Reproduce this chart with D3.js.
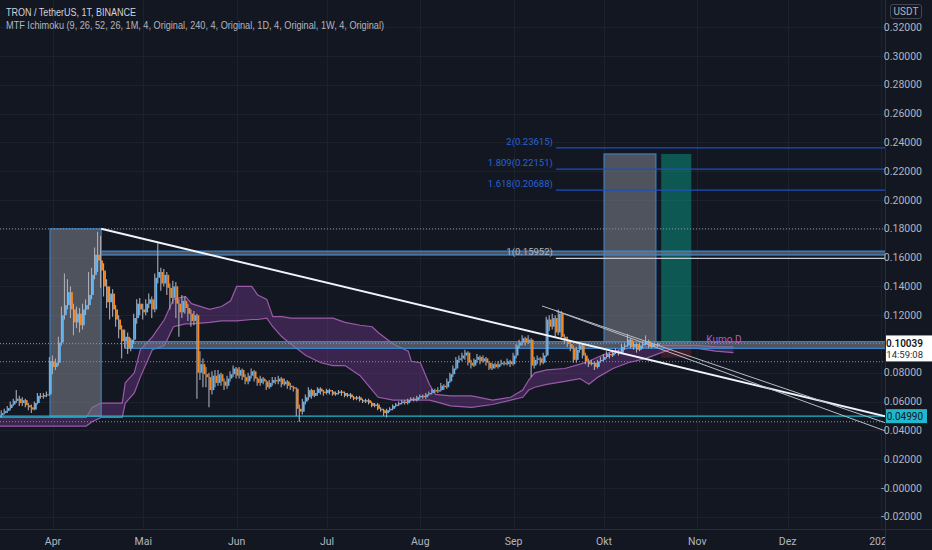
<!DOCTYPE html>
<html><head><meta charset="utf-8">
<script src="https://cdn.jsdelivr.net/npm/d3@7"></script>
<style>html,body{margin:0;padding:0;background:#131722;overflow:hidden}</style>
</head><body><svg id="c" width="932" height="550"></svg>
<script>
// ---------- DATA ----------
const startDay = "2021-03-14";
const firstOpen = 0.049;
const closes = [0.0505,0.052,0.0535,0.0555,0.058,0.0605,0.062,0.059,0.061,0.0575,0.056,0.0545,0.059,0.064,0.0635,0.0645,0.065,0.088,
0.084,0.087,0.101,0.12,0.127,0.136,0.124,0.115,0.121,0.113,
0.124,0.127,0.134,0.148,0.162,0.158,0.151,0.14,0.129,0.135,
0.124,0.117,0.11,0.102,0.105,0.097,0.103,0.118,0.128,0.124,
0.122,0.128,0.131,0.124,0.146,0.15,0.142,0.148,0.139,0.132,
0.14,0.128,0.122,0.13,0.125,0.121,0.116,0.12,0.08,0.086,
0.079,0.077,0.068,0.078,0.073,0.079,0.074,0.071,0.076,0.079,
0.083,0.078,0.082,0.077,0.074,0.078,0.081,0.076,0.073,0.076,
0.074,0.07,0.073,0.075,0.074,0.076,0.072,0.074,0.071,0.07,
0.069,0.055,0.053,0.06,0.063,0.068,0.064,0.066,0.069,0.067,
0.066,0.068,0.067,0.065,0.066,0.067,0.066,0.064,0.065,0.063,
0.062,0.063,0.061,0.06,0.061,0.059,0.057,0.058,0.055,0.054,
0.052,0.054,0.055,0.057,0.058,0.059,0.06,0.059,0.061,0.062,
0.061,0.063,0.064,0.063,0.065,0.066,0.068,0.067,0.068,0.071,
0.07,0.074,0.079,0.083,0.089,0.09,0.092,0.094,0.087,0.085,
0.089,0.091,0.088,0.09,0.087,0.083,0.086,0.084,0.086,0.087,
0.086,0.088,0.086,0.092,0.099,0.101,0.104,0.101,0.103,0.085,
0.089,0.09,0.087,0.092,0.117,0.112,0.118,0.108,0.121,0.105,
0.103,0.1,0.097,0.089,0.096,0.099,0.092,0.088,0.086,0.087,
0.084,0.088,0.089,0.091,0.093,0.092,0.094,0.095,0.094,0.098,
0.099,0.103,0.098,0.1,0.096,0.099,0.1,0.102,0.098,0.1,
0.099,0.10039];
const highs = [0.052,0.054,0.055,0.057,0.06,0.062,0.068,0.064,0.063,0.062,0.059,0.058,0.06,0.066,0.066,0.066,0.067,0.091,
0.092,0.09,0.105,0.126,0.149,0.145,0.14,0.128,0.126,0.125,
0.128,0.131,0.15,0.153,0.167,0.178,0.175,0.156,0.145,0.14,
0.138,0.127,0.12,0.113,0.11,0.108,0.104,0.121,0.131,0.132,
0.128,0.131,0.135,0.133,0.149,0.17,0.153,0.152,0.15,0.142,
0.144,0.143,0.131,0.134,0.133,0.128,0.124,0.123,0.121,0.095,
0.09,0.084,0.08,0.081,0.082,0.082,0.08,0.076,0.078,0.081,
0.085,0.084,0.084,0.083,0.079,0.08,0.083,0.082,0.077,0.078,
0.077,0.075,0.075,0.077,0.077,0.078,0.077,0.076,0.075,0.073,
0.071,0.07,0.058,0.062,0.065,0.07,0.069,0.068,0.07,0.07,
0.068,0.069,0.069,0.068,0.067,0.068,0.068,0.067,0.066,0.066,
0.064,0.064,0.064,0.062,0.062,0.062,0.06,0.059,0.059,0.056,
0.055,0.055,0.056,0.058,0.059,0.06,0.061,0.061,0.062,0.063,
0.063,0.064,0.065,0.065,0.066,0.067,0.069,0.069,0.07,0.073,
0.072,0.076,0.08,0.085,0.091,0.092,0.094,0.096,0.095,0.089,
0.09,0.093,0.092,0.092,0.091,0.088,0.087,0.087,0.088,0.089,
0.088,0.09,0.089,0.094,0.1,0.103,0.106,0.105,0.106,0.104,
0.091,0.092,0.091,0.094,0.119,0.12,0.121,0.12,0.124,0.123,
0.107,0.105,0.102,0.099,0.098,0.101,0.1,0.094,0.09,0.089,
0.088,0.089,0.091,0.093,0.095,0.094,0.096,0.097,0.096,0.1,
0.101,0.107,0.104,0.102,0.101,0.101,0.102,0.106,0.103,0.101,
0.101,0.101];
const lows = [0.048,0.049,0.051,0.052,0.054,0.057,0.059,0.057,0.057,0.056,0.054,0.052,0.054,0.058,0.062,0.062,0.063,0.064,
0.079,0.082,0.085,0.099,0.117,0.124,0.118,0.106,0.111,0.108,
0.11,0.12,0.124,0.131,0.145,0.15,0.139,0.133,0.125,0.117,
0.119,0.112,0.104,0.09,0.097,0.093,0.095,0.1,0.114,0.12,
0.117,0.12,0.125,0.118,0.122,0.142,0.137,0.14,0.134,0.124,
0.128,0.118,0.105,0.118,0.121,0.116,0.112,0.113,0.062,0.075,
0.07,0.07,0.056,0.065,0.07,0.071,0.071,0.068,0.069,0.074,
0.077,0.076,0.076,0.075,0.072,0.072,0.076,0.074,0.071,0.071,
0.072,0.068,0.069,0.071,0.072,0.072,0.07,0.071,0.069,0.068,
0.067,0.05,0.046,0.051,0.058,0.061,0.062,0.063,0.064,0.065,
0.064,0.065,0.065,0.064,0.064,0.065,0.064,0.063,0.063,0.062,
0.061,0.061,0.06,0.059,0.059,0.058,0.056,0.056,0.054,0.053,
0.05,0.049,0.053,0.054,0.056,0.057,0.058,0.058,0.058,0.06,
0.06,0.06,0.062,0.062,0.062,0.064,0.065,0.066,0.066,0.067,
0.068,0.069,0.073,0.077,0.082,0.087,0.088,0.089,0.085,0.083,
0.084,0.087,0.086,0.087,0.085,0.082,0.082,0.083,0.083,0.085,
0.085,0.085,0.084,0.085,0.09,0.097,0.099,0.099,0.1,0.077,
0.083,0.086,0.085,0.086,0.091,0.109,0.11,0.105,0.106,0.103,
0.1,0.098,0.095,0.087,0.087,0.094,0.09,0.086,0.084,0.085,
0.082,0.083,0.087,0.088,0.09,0.09,0.091,0.093,0.092,0.093,
0.096,0.098,0.097,0.096,0.094,0.095,0.097,0.099,0.097,0.097,
0.098,0.098];

const cloudDates = ["2021-03-12","2021-04-12","2021-04-14","2021-04-17","2021-04-24","2021-04-25","2021-04-28","2021-04-30","2021-05-04","2021-05-08",
"2021-05-11","2021-05-15","2021-05-17","2021-05-23","2021-05-27","2021-05-30","2021-06-01","2021-06-06","2021-06-08","2021-06-11",
"2021-06-13","2021-06-16","2021-06-19","2021-06-24","2021-06-29","2021-07-03","2021-07-07","2021-07-12","2021-07-16","2021-07-18",
"2021-07-23","2021-07-28","2021-07-29","2021-08-01","2021-08-04","2021-08-06","2021-08-11","2021-08-18","2021-08-25","2021-08-31",
"2021-09-04","2021-09-06","2021-09-08","2021-09-12","2021-09-18","2021-09-23","2021-09-26","2021-09-29","2021-10-04","2021-10-09",
"2021-10-15","2021-10-20","2021-10-24","2021-11-01","2021-11-07","2021-11-13"];
const cloudTop = [0.049,0.049,0.056,0.059,0.059,0.073,0.08,0.096,0.105,0.117,
0.131,0.133,0.128,0.124,0.126,0.13,0.14,0.14,0.134,0.131,
0.119,0.119,0.118,0.118,0.118,0.118,0.115,0.113,0.112,0.108,
0.10,0.095,0.088,0.087,0.072,0.065,0.064,0.064,0.061,0.063,
0.068,0.075,0.08,0.082,0.083,0.086,0.088,0.091,0.095,0.097,
0.098,0.099,0.099,0.099,0.098,0.098];
const cloudBottom = [0.043,0.043,0.046,0.049,0.049,0.059,0.066,0.077,0.096,0.099,
0.112,0.114,0.114,0.115,0.116,0.116,0.116,0.117,0.117,0.118,
0.112,0.105,0.10,0.092,0.087,0.085,0.085,0.078,0.068,0.063,
0.061,0.061,0.061,0.061,0.061,0.06,0.057,0.056,0.058,0.061,
0.063,0.068,0.07,0.072,0.074,0.076,0.072,0.077,0.083,0.087,
0.09,0.094,0.097,0.097,0.095,0.094];

const monthTicks = ["2021-04-01","2021-05-01","2021-06-01","2021-07-01","2021-08-01","2021-09-01","2021-10-01","2021-11-01","2021-12-01","2022-01-01"];
const monthLabels = ["Apr","Mai","Jun","Jul","Aug","Sep","Okt","Nov","Dez","2022"];
const priceTicks = [0.32,0.30,0.28,0.26,0.24,0.22,0.20,0.18,0.16,0.14,0.12,0.10,0.08,0.06,0.04,0.02,0,-0.02];
const priceTickLabels = ["0.32000","0.30000","0.28000","0.26000","0.24000","0.22000","0.20000","0.18000","0.16000","0.14000","0.12000","0.10000","0.08000","0.06000","0.04000","0.02000","-0.00000","-0.02000"];

const fibLabels = ["2(0.23615)","1.809(0.22151)","1.618(0.20688)","1(0.15952)"];
const fibPrices = [0.23615,0.22151,0.20688,0.15952];
const fibStart = "2021-09-15";

const lastPrice = 0.10039;
const countdown = "14:59:08";
const supportPrice = 0.0499;
const supportLabel = "0.04990";
const dottedPrices = [0.18, 0.10039, 0.0877, 0.046];

// boxes: [startDate, endDate, topPrice, bottomPrice]
const rangeBox = ["2021-03-31","2021-04-17",0.18,0.0499];
const targetBox = ["2021-10-01","2021-10-18T06:00",0.232,0.1014];
const profitBox = ["2021-10-20","2021-10-30",0.232,0.1005];
const stopBox = ["2021-10-20","2021-10-30",0.1005,0.0905];
const bandHigh = ["2021-04-17",0.1645,0.1618];
const bandMid = ["2021-04-25",0.1016,0.0970];

// trend lines: [[date, price],[date, price]]
const mainTrend = [["2021-04-17",0.18],["2022-01-03",0.0495]];
const channelA = [["2021-09-10T10:00",0.1264],["2022-01-03",0.0449]];
const channelB = [["2021-09-15",0.123],["2022-01-03",0.0392]];

// ---------- CHART ----------
const W = 932, H = 550, plotR = 885, plotB = 529;
const svg = d3.select("#c");
const pd = d3.utcParse("%Y-%m-%d");
const P = s => s.length > 10 ? new Date(s + "Z") : pd(s);
const x = d3.scaleUtc().domain([P("2021-04-01"), P("2022-01-01")]).range([53, 881]);
const y = d3.scaleLinear().domain([0, 0.32]).range([488, 27.2]);

svg.append("rect").attr("width", W).attr("height", H).attr("fill", "#131722");
const defs = svg.append("defs");
defs.append("clipPath").attr("id","pc").append("rect").attr("x",0).attr("y",0).attr("width",plotR).attr("height",plotB);
defs.append("clipPath").attr("id","xc").append("rect").attr("x",0).attr("y",plotB+1).attr("width",plotR).attr("height",H-plotB);
const g = svg.append("g").attr("clip-path","url(#pc)");

// grid
g.selectAll(".hg").data(priceTicks).join("line")
  .attr("x1",0).attr("x2",plotR).attr("y1",d=>Math.round(y(d))+0.5).attr("y2",d=>Math.round(y(d))+0.5)
  .attr("stroke","#1d212c").attr("stroke-width",1);
g.selectAll(".vg").data(monthTicks).join("line")
  .attr("y1",0).attr("y2",plotB).attr("x1",d=>Math.round(x(P(d)))+0.5).attr("x2",d=>Math.round(x(P(d)))+0.5)
  .attr("stroke","#1d212c").attr("stroke-width",1);

// cloud
const cloud = cloudDates.map((d,i)=>({t:P(d), a:cloudTop[i], b:cloudBottom[i]}));
g.append("path").datum(cloud)
  .attr("d", d3.area().x(d=>x(d.t)).y0(d=>y(d.b)).y1(d=>y(d.a)))
  .attr("fill","rgba(120,60,150,0.38)");
["a","b"].forEach(k=>{
  g.append("path").datum(cloud)
   .attr("d", d3.line().x(d=>x(d.t)).y(d=>y(d[k])))
   .attr("fill","none").attr("stroke","#9b5aa8").attr("stroke-width",1.2);
});

function box(b, fill, stroke){
  const x0 = x(P(b[0])), x1 = x(P(b[1]));
  g.append("rect").attr("x",x0).attr("y",y(b[2])).attr("width",x1-x0).attr("height",y(b[3])-y(b[2]))
   .attr("fill",fill).attr("stroke",stroke||"none").attr("stroke-width",1);
}
box(rangeBox, "rgba(120,123,134,0.6)", "#3a8ad6");
box(targetBox, "rgba(120,123,134,0.6)", "#3a8ad6");
box(profitBox, "rgba(8,153,129,0.5)", null);
box(stopBox, "rgba(242,54,69,0.18)", null);

// horizontal bands
function band(b){
  const x0 = x(P(b[0]));
  g.append("rect").attr("x",x0).attr("y",y(b[1])).attr("width",plotR-x0+5).attr("height",y(b[2])-y(b[1]))
   .attr("fill","rgba(120,123,134,0.6)").attr("stroke","#3a8ad6").attr("stroke-width",1.2);
}
band(bandHigh);
band(bandMid);

// dotted lines
g.selectAll(".dl").data(dottedPrices).join("line")
  .attr("x1",0).attr("x2",plotR).attr("y1",d=>y(d)).attr("y2",d=>y(d))
  .attr("stroke","#8d909a").attr("stroke-width",1).attr("stroke-dasharray","1,2");

// support line
g.append("line").attr("x1",0).attr("x2",plotR).attr("y1",y(supportPrice)).attr("y2",y(supportPrice))
  .attr("stroke","#1fb8cc").attr("stroke-width",1.2);

// candles
const t0 = P(startDay);
const candles = closes.map((c,i)=>({t:d3.utcDay.offset(t0,i), o: i===0?firstOpen:closes[i-1], c, h:highs[i], l:lows[i]}));
const cg = g.append("g");
cg.selectAll(".w").data(candles).join("line")
  .attr("x1",d=>x(d.t)-0.6).attr("x2",d=>x(d.t)-0.6).attr("y1",d=>y(d.h)).attr("y2",d=>y(d.l))
  .attr("stroke","#a9acb5").attr("stroke-width",1.1);
cg.selectAll(".b").data(candles).join("rect")
  .attr("x",d=>x(d.t)-0.1).attr("width",1.9)
  .attr("y",d=>y(Math.max(d.o,d.c))).attr("height",d=>Math.max(1,Math.abs(y(d.o)-y(d.c))))
  .attr("fill",d=>d.c>=d.o?"#5fb4f2":"#f7891c");

// fib lines
const fx = x(P(fibStart));
g.selectAll(".fl").data(fibPrices).join("line")
  .attr("x1",fx).attr("x2",plotR).attr("y1",d=>y(d)).attr("y2",d=>y(d))
  .attr("stroke",(d,i)=>i===3?"#c9ccd3":"#1f4fc0").attr("stroke-width",1.2);
svg.selectAll(".ft").data(fibPrices).join("text")
  .attr("x",fx-3).attr("y",d=>y(d)-3).attr("text-anchor","end")
  .attr("font-family","'Liberation Sans Narrow','Roboto',sans-serif").attr("font-size",9.5)
  .attr("fill",(d,i)=>i===3?"#b2b5be":"#2a62d6").text((d,i)=>fibLabels[i]);

// trend lines
const lineGen = d3.line().x(d=>x(P(d[0]))).y(d=>y(d[1]));
g.append("path").attr("d",lineGen(mainTrend)).attr("stroke","#f0f3fa").attr("stroke-width",2).attr("fill","none");
[channelA, channelB].forEach(l=>g.append("path").attr("d",lineGen(l)).attr("stroke","#b8bbc4").attr("stroke-width",1).attr("fill","none"));

// Kumo D label
g.append("text").attr("x",x(P("2021-11-04"))).attr("y",y(0.1016)).attr("dy","0.1em")
  .attr("font-family","'Liberation Sans Narrow','Roboto',sans-serif").attr("font-size",10)
  .attr("fill","#b05ec0").text("Kumo D");

// axes lines
svg.append("line").attr("x1",plotR+0.5).attr("x2",plotR+0.5).attr("y1",0).attr("y2",H).attr("stroke","#2a2e39");
svg.append("line").attr("x1",0).attr("x2",W).attr("y1",plotB+0.5).attr("y2",plotB+0.5).attr("stroke","#2a2e39");

const axisFont = "'Liberation Sans Narrow','Roboto',sans-serif";
const ly = y(lastPrice), sy = y(supportPrice);
// y labels (those hidden under the price label boxes are not drawn)
const visTicks = priceTicks.map((d,i)=>({d, s:priceTickLabels[i]}))
  .filter(o => Math.abs(y(o.d)-(ly+5)) > 14 && Math.abs(y(o.d)-sy) > 10);
svg.selectAll(".yl").data(visTicks).join("text")
  .attr("x",922).attr("y",o=>y(o.d)).attr("dy","0.35em").attr("text-anchor","end")
  .attr("font-family",axisFont).attr("font-size",10.5).attr("fill","#b2b5be")
  .text(o=>o.s);

// x labels
const xl = svg.append("g").attr("clip-path","url(#xc)");
xl.selectAll("text").data(monthTicks).join("text")
  .attr("x",d=>x(P(d))).attr("y",541).attr("dy","0.35em").attr("text-anchor","middle")
  .attr("font-family",axisFont).attr("font-size",10.5).attr("fill","#b2b5be")
  .text((d,i)=>monthLabels[i]);

// USDT box
svg.append("rect").attr("x",890.5).attr("y",4.5).attr("width",31).attr("height",14).attr("rx",2.5)
  .attr("fill","#131722").attr("stroke","#434651");
svg.append("text").attr("x",906).attr("y",11.5).attr("dy","0.35em").attr("text-anchor","middle")
  .attr("font-family",axisFont).attr("font-size",10).attr("fill","#b2b5be").text("USDT");

// last price label
svg.append("rect").attr("x",886).attr("y",ly-8).attr("width",46).attr("height",26).attr("fill","#ffffff");
svg.append("text").attr("x",923).attr("y",ly).attr("dy","0.33em").attr("text-anchor","end")
  .attr("font-family",axisFont).attr("font-size",10).attr("font-weight","600").attr("fill","#131722").text(lastPrice.toFixed(5));
svg.append("text").attr("x",923).attr("y",ly+11.5).attr("dy","0.33em").attr("text-anchor","end")
  .attr("font-family",axisFont).attr("font-size",9.5).attr("fill","#2a2e39").text(countdown);

// support label
svg.append("rect").attr("x",886).attr("y",sy-7).attr("width",41).attr("height",14).attr("fill","#1fb8cc");
svg.append("text").attr("x",923).attr("y",sy).attr("dy","0.35em").attr("text-anchor","end")
  .attr("font-family",axisFont).attr("font-size",10).attr("fill","#131722").text(supportLabel);

// header
svg.append("text").attr("x",6).attr("y",15.5).attr("font-family","'Liberation Sans',sans-serif").attr("font-size",11)
  .attr("textLength",130).attr("lengthAdjust","spacingAndGlyphs")
  .attr("fill","#d1d4dc").text("TRON / TetherUS, 1T, BINANCE");
svg.append("text").attr("x",6).attr("y",28.5).attr("font-family","'Liberation Sans',sans-serif").attr("font-size",10.5)
  .attr("textLength",378).attr("lengthAdjust","spacingAndGlyphs")
  .attr("fill","#b2b5be").text("MTF Ichimoku (9, 26, 52, 26, 1M, 4, Original, 240, 4, Original, 1D, 4, Original, 1W, 4, Original)");
</script></body></html>
